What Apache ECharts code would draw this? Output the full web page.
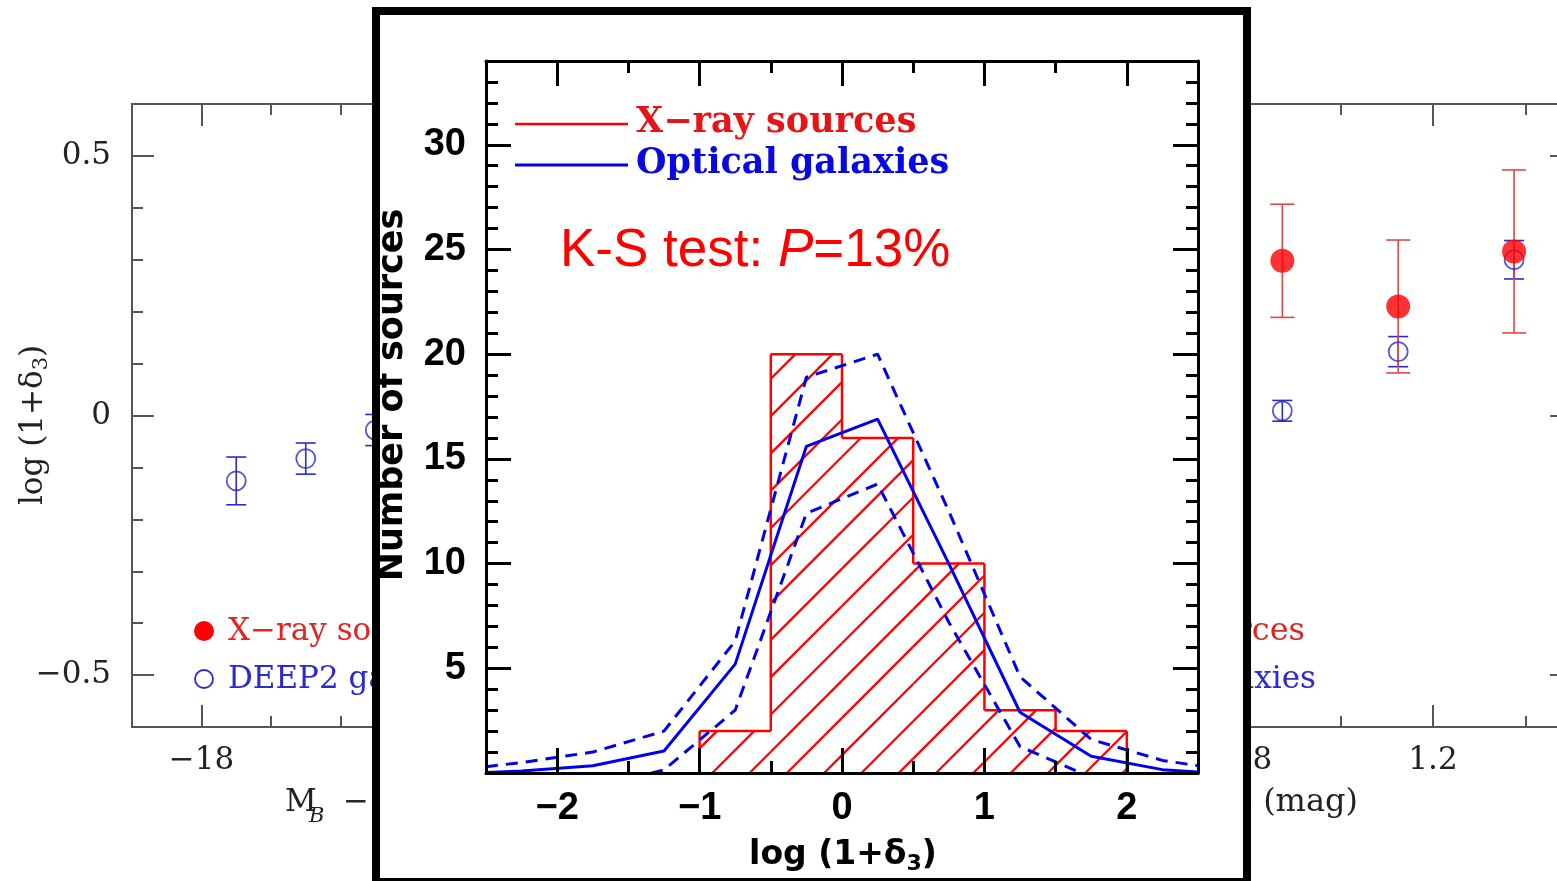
<!DOCTYPE html>
<html><head><meta charset="utf-8">
<script src="https://cdn.jsdelivr.net/npm/echarts@6/dist/echarts.min.js"></script>
<style>html,body{margin:0;padding:0;background:#fff;}#c{width:1557px;height:881px;}</style>
</head><body><div id="c"></div>
<script>
// ===== Inset: histogram of log(1+delta3) =====
const histBinLeft = [-1, -0.5, 0, 0.5, 1, 1.5];
const histBinWidth = 0.5;
const histCounts = [2, 20, 16, 10, 3, 2];
const optX = [-2.5, -2.25, -1.75, -1.25, -0.75, -0.25, 0.25, 0.75, 1.25, 1.75, 2.25, 2.5];
const optMean = [0.02, 0.1, 0.35, 1.05, 5.2, 15.6, 16.9, 10.0, 2.9, 0.8, 0.16, 0.05];
const optUpper = [0.3, 0.5, 1.0, 2.0, 6.3, 18.9, 20.0, 12.5, 4.6, 1.6, 0.6, 0.35];
const optLowerX = [-1.75, -1.25, -0.75, -0.25, 0.25, 0.75, 1.25, 1.75];
const optLower = [-0.7, 0.15, 3.0, 12.4, 13.8, 7.2, 1.26, -0.2];
const insetXMajor = [-2, -1, 0, 1, 2];
const insetXLabels = ['\u22122', '\u22121', '0', '1', '2'];
const insetXMinor = [-1.5, -0.5, 0.5, 1.5];
const insetYMajor = [5, 10, 15, 20, 25, 30];
const insetYLabels = ['5', '10', '15', '20', '25', '30'];
const insetYMinor = [1, 2, 3, 4, 6, 7, 8, 9, 11, 12, 13, 14, 16, 17, 18, 19, 21, 22, 23, 24, 26, 27, 28, 29, 31, 32, 33];

// ===== Background panels =====
const mbX = [-18.25, -18.75, -19.25];
const mbDeep2 = [-0.126, -0.083, -0.028];
const mbDeep2Err = [0.046, 0.030, 0.030];
const colX = [0.875, 1.125, 1.375];
const colXray = [0.298, 0.210, 0.316];
const colXrayErr = [0.109, 0.128, 0.157];
const colDeep2 = [0.009, 0.123, 0.300];
const colDeep2Err = [0.020, 0.029, 0.037];
const bgYMajor = [-0.5, 0, 0.5];
const bgYLabels = ['\u22120.5', '0', '0.5'];
const bgYMinor = [-0.4, -0.3, -0.2, -0.1, 0.1, 0.2, 0.3, 0.4];
const mbMajor = [-22, -20, -18];
const mbLabels = ['\u221222', '\u221220', '\u221218'];
const mbMinor = [-21.5, -21, -20.5, -19.5, -19, -18.5];
const colMajor = [0.4, 0.8, 1.2];
const colLabels = ['0.4', '0.8', '1.2'];
const colMinor = [0.6, 1.0, 1.4];

const RED = '#ff0000', BLUE = '#0000ee';
const BG_RED = '#e02424', BG_BLUE = '#2a2ad0';

function lookup(vals, labels) {
  return function (v) {
    const i = vals.findIndex(t => Math.abs(t - v) < 1e-9);
    return i >= 0 ? labels[i] : '';
  };
}

function bgAxis(kind, grid, pos, min, max, ticks, len, labels, inverse) {
  const a = {
    type: 'value', gridIndex: grid, position: pos, min: min, max: max, inverse: !!inverse,
    axisLine: { show: false, onZero: false },
    splitLine: { show: false },
    axisTick: { show: true, inside: true, length: len, customValues: ticks, lineStyle: { color: '#555', width: 2 } },
    axisLabel: { show: false }
  };
  if (labels) {
    a.axisLabel = {
      show: true, customValues: ticks, formatter: lookup(ticks, labels),
      fontFamily: 'DejaVu Serif', fontSize: 31, color: '#222', margin: kind === 'x' ? 18 : 21
    };
  }
  return a;
}
function inAxis(kind, pos, min, max, ticks, len, labels, showLine) {
  const a = {
    type: 'value', gridIndex: 2, position: pos, min: min, max: max, zlevel: 1, z: 6,
    axisLine: { show: !!showLine, onZero: false, lineStyle: { color: '#000', width: 3 } },
    splitLine: { show: false },
    axisTick: { show: true, inside: true, length: len, customValues: ticks, lineStyle: { color: '#000', width: 3 } },
    axisLabel: { show: false }
  };
  if (labels) {
    a.axisLabel = {
      show: true, customValues: ticks, formatter: lookup(ticks, labels),
      fontFamily: 'Liberation Sans', fontWeight: 'bold', fontSize: 38, color: '#000',
      margin: kind === 'x' ? 17 : 20
    };
  }
  return a;
}

const xAxes = [
  bgAxis('x', 0, 'bottom', -22, -17.5, mbMajor, 22, mbLabels, true),
  bgAxis('x', 0, 'bottom', -22, -17.5, mbMinor, 11, null, true),
  bgAxis('x', 0, 'top', -22, -17.5, mbMajor, 22, null, true),
  bgAxis('x', 0, 'top', -22, -17.5, mbMinor, 11, null, true),
  bgAxis('x', 1, 'bottom', 0.2, 1.5, colMajor, 22, colLabels),
  bgAxis('x', 1, 'bottom', 0.2, 1.5, colMinor, 11, null),
  bgAxis('x', 1, 'top', 0.2, 1.5, colMajor, 22, null),
  bgAxis('x', 1, 'top', 0.2, 1.5, colMinor, 11, null),
  inAxis('x', 'bottom', -2.5, 2.5, insetXMajor, 25, insetXLabels, true),
  inAxis('x', 'bottom', -2.5, 2.5, insetXMinor, 12, null, false),
  inAxis('x', 'top', -2.5, 2.5, insetXMajor, 25, null, true),
  inAxis('x', 'top', -2.5, 2.5, insetXMinor, 12, null, false)
];
const yAxes = [
  bgAxis('y', 0, 'left', -0.6, 0.6, bgYMajor, 22, bgYLabels),
  bgAxis('y', 0, 'left', -0.6, 0.6, bgYMinor, 11, null),
  bgAxis('y', 1, 'right', -0.6, 0.6, bgYMajor, 22, null),
  bgAxis('y', 1, 'right', -0.6, 0.6, bgYMinor, 11, null),
  inAxis('y', 'left', 0, 34, insetYMajor, 25, insetYLabels, true),
  inAxis('y', 'left', 0, 34, insetYMinor, 12, null, false),
  inAxis('y', 'right', 0, 34, insetYMajor, 25, null, true),
  inAxis('y', 'right', 0, 34, insetYMinor, 12, null, false)
];

function errBars(color, capHalf, lw) {
  return function (params, api) {
    const x = api.value(0), y = api.value(1), e = api.value(2);
    const t = api.coord([x, y + e]), b = api.coord([x, y - e]);
    const st = { stroke: color, lineWidth: lw };
    return { type: 'group', children: [
      { type: 'line', shape: { x1: t[0], y1: t[1], x2: b[0], y2: b[1] }, style: st },
      { type: 'line', shape: { x1: t[0] - capHalf, y1: t[1], x2: t[0] + capHalf, y2: t[1] }, style: st },
      { type: 'line', shape: { x1: b[0] - capHalf, y1: b[1], x2: b[0] + capHalf, y2: b[1] }, style: st }
    ] };
  };
}

const hatchRefX = -0.911;  // phase of hatching (data x where a hatch line meets the axis)
const hatchGap = 37.3;     // px along x between hatch lines (45 deg)

function histRender(params, api) {
  const i = params.dataIndex;
  const left = api.value(0), right = api.value(1), h = api.value(2);
  const prevH = i > 0 ? histCounts[i - 1] : 0;
  const tl = api.coord([left, h]), br = api.coord([right, 0]);
  const pp = api.coord([left, prevH]);
  const x0 = tl[0], y0 = tl[1], x1 = br[0], y1 = br[1];
  const ref = api.coord([hatchRefX, 0]);
  const cRef = ref[0] + ref[1];
  const children = [];
  const kS = Math.floor((x0 + y0 - cRef) / hatchGap) - 1;
  const kE = Math.ceil((x1 + y1 - cRef) / hatchGap) + 1;
  for (let k = kS; k <= kE; k++) {
    const c = cRef + k * hatchGap;
    const xs = Math.max(x0, c - y1), xe = Math.min(x1, c - y0);
    if (xe > xs + 0.5) {
      children.push({ type: 'line', shape: { x1: xs, y1: c - xs, x2: xe, y2: c - xe },
        style: { stroke: RED, lineWidth: 2.3 } });
    }
  }
  const os = { stroke: RED, lineWidth: 2.5 };
  children.push({ type: 'line', shape: { x1: x0, y1: y0, x2: x1, y2: y0 }, style: os });
  children.push({ type: 'line', shape: { x1: x0, y1: pp[1], x2: x0, y2: y0 }, style: os });
  if (i === histCounts.length - 1) {
    children.push({ type: 'line', shape: { x1: x1, y1: y0, x2: x1, y2: y1 }, style: os });
  }
  return { type: 'group', children: children };
}

const series = [
  { type: 'custom', xAxisIndex: 0, yAxisIndex: 0, renderItem: errBars(BG_BLUE, 10, 1.6),
    data: mbX.map((x, i) => [x, mbDeep2[i], mbDeep2Err[i]]), silent: true },
  { type: 'scatter', xAxisIndex: 0, yAxisIndex: 0, symbol: 'circle', symbolSize: 19,
    itemStyle: { color: 'rgba(0,0,0,0)', borderColor: BG_BLUE, borderWidth: 1.8 },
    data: mbX.map((x, i) => [x, mbDeep2[i]]), silent: true },
  { type: 'custom', xAxisIndex: 4, yAxisIndex: 2, renderItem: errBars(BG_BLUE, 10, 1.6),
    data: colX.map((x, i) => [x, colDeep2[i], colDeep2Err[i]]), silent: true },
  { type: 'scatter', xAxisIndex: 4, yAxisIndex: 2, symbol: 'circle', symbolSize: 19,
    itemStyle: { color: 'rgba(0,0,0,0)', borderColor: BG_BLUE, borderWidth: 1.8 },
    data: colX.map((x, i) => [x, colDeep2[i]]), silent: true },
  { type: 'custom', xAxisIndex: 4, yAxisIndex: 2, renderItem: errBars('#e04848', 12, 1.6),
    data: colX.map((x, i) => [x, colXray[i], colXrayErr[i]]), silent: true },
  { type: 'scatter', xAxisIndex: 4, yAxisIndex: 2, symbol: 'circle', symbolSize: 24,
    itemStyle: { color: '#ff0000' }, data: colX.map((x, i) => [x, colXray[i]]), silent: true },
  { type: 'custom', xAxisIndex: 8, yAxisIndex: 4, zlevel: 1, z: 3, renderItem: histRender, silent: true,
    data: histBinLeft.map((l, i) => [l, l + histBinWidth, histCounts[i]]) },
  { type: 'line', xAxisIndex: 8, yAxisIndex: 4, zlevel: 1, z: 4, showSymbol: false, silent: true,
    lineStyle: { color: BLUE, width: 3 }, data: optX.map((x, i) => [x, optMean[i]]) },
  { type: 'line', xAxisIndex: 8, yAxisIndex: 4, zlevel: 1, z: 4, showSymbol: false, silent: true,
    lineStyle: { color: BLUE, width: 3, type: [12, 8] }, data: optX.map((x, i) => [x, optUpper[i]]) },
  { type: 'line', xAxisIndex: 8, yAxisIndex: 4, zlevel: 1, z: 4, showSymbol: false, silent: true,
    lineStyle: { color: BLUE, width: 3, type: [12, 8] }, data: optLowerX.map((x, i) => [x, optLower[i]]) }
];

const serif = 'DejaVu Serif';
const graphics = [
  { type: 'circle', zlevel: 0, z: 5, shape: { cx: 204, cy: 631, r: 10 }, style: { fill: '#ff0000' } },
  { type: 'text', zlevel: 0, z: 5, x: 228, y: 632, style: { text: 'X\u2212ray sources', fill: BG_RED,
      font: '31px "DejaVu Serif"', textVerticalAlign: 'middle' } },
  { type: 'circle', zlevel: 0, z: 5, shape: { cx: 204, cy: 679, r: 9 }, style: { fill: 'none', stroke: BG_BLUE, lineWidth: 1.8 } },
  { type: 'text', zlevel: 0, z: 5, x: 228, y: 680, style: { text: 'DEEP2 galaxies', fill: BG_BLUE,
      font: '31px "DejaVu Serif"', textVerticalAlign: 'middle' } },
  { type: 'text', zlevel: 0, z: 5, x: 1305, y: 632, style: { text: 'X\u2212ray sources', fill: BG_RED,
      font: '32px "DejaVu Serif"', textVerticalAlign: 'middle', textAlign: 'right' } },
  { type: 'text', zlevel: 0, z: 5, x: 1316, y: 680, style: { text: 'DEEP2 galaxies', fill: BG_BLUE,
      font: '31px "DejaVu Serif"', textVerticalAlign: 'middle', textAlign: 'right' } },
  { type: 'text', zlevel: 0, z: 5, x: 285, y: 803, style: { text: 'M', fill: '#222',
      font: '31px "DejaVu Serif"', textVerticalAlign: 'middle' } },
  { type: 'text', zlevel: 0, z: 5, x: 309, y: 817, style: { text: 'B', fill: '#222',
      font: 'italic 21px "DejaVu Serif"', textVerticalAlign: 'middle' } },
  { type: 'text', zlevel: 0, z: 5, x: 343, y: 803, style: { text: '\u2212 5 log h (mag)', fill: '#222',
      font: '31px "DejaVu Serif"', textVerticalAlign: 'middle' } },
  { type: 'text', zlevel: 0, z: 5, x: 1358, y: 803, style: { text: 'U \u2212 B (mag)', fill: '#222',
      font: '32px "DejaVu Serif"', textVerticalAlign: 'middle', textAlign: 'right' } },
  { type: 'text', zlevel: 0, z: 5, x: 34, y: 425, rotation: Math.PI / 2, style: {
      text: '{a|log (1+\u03b4}{s|3}{a|)}', textAlign: 'center', textVerticalAlign: 'middle', fill: '#222',
      rich: { a: { fontFamily: serif, fontSize: 31, lineHeight: 36, fill: '#222' },
              s: { fontFamily: serif, fontSize: 21, lineHeight: 22, verticalAlign: 'bottom', fill: '#222' } } } },
  { type: 'rect', zlevel: 1, z: 0, shape: { x: 376, y: 11, width: 871, height: 871 },
    style: { fill: '#fff', stroke: '#000', lineWidth: 8 } },
  { type: 'line', zlevel: 1, z: 8, shape: { x1: 515, y1: 124, x2: 628, y2: 124 }, style: { stroke: RED, lineWidth: 2.5 } },
  { type: 'text', zlevel: 1, z: 8, x: 636, y: 123, style: { text: 'X\u2212ray sources', fill: '#e61414',
      font: 'bold 35px "DejaVu Serif"', textVerticalAlign: 'middle' } },
  { type: 'line', zlevel: 1, z: 8, shape: { x1: 515, y1: 165, x2: 628, y2: 165 }, style: { stroke: BLUE, lineWidth: 3 } },
  { type: 'text', zlevel: 1, z: 8, x: 636, y: 164, style: { text: 'Optical galaxies', fill: '#0808e0',
      font: 'bold 35px "DejaVu Serif"', textVerticalAlign: 'middle' } },
  { type: 'text', zlevel: 1, z: 8, x: 560, y: 251, style: {
      text: '{a|K-S test: }{i|P}{a|=13%}', textVerticalAlign: 'middle',
      rich: { a: { fontFamily: 'Liberation Sans', fontSize: 53, fill: '#ff0000' },
              i: { fontFamily: 'Liberation Sans', fontSize: 53, fontStyle: 'italic', fill: '#ff0000' } } } },
  { type: 'text', zlevel: 1, z: 8, x: 393, y: 395, rotation: Math.PI / 2, style: {
      text: 'Number of sources', textAlign: 'center', textVerticalAlign: 'middle', fill: '#000',
      font: 'bold 35px "DejaVu Sans"' } },
  { type: 'text', zlevel: 1, z: 8, x: 843, y: 855, style: {
      text: '{a|log (1+\u03b4}{s|3}{a|)}', textAlign: 'center', textVerticalAlign: 'middle',
      rich: { a: { fontFamily: 'DejaVu Sans', fontWeight: 'bold', fontSize: 33, lineHeight: 40, fill: '#000' },
              s: { fontFamily: 'DejaVu Sans', fontWeight: 'bold', fontSize: 22, lineHeight: 24, verticalAlign: 'bottom', fill: '#000' } } } }
];

const chart = echarts.init(document.getElementById('c'), null, { renderer: 'canvas' });
chart.setOption({
  animation: false,
  backgroundColor: '#fff',
  grid: [
    { left: 132, top: 104, width: 625.5, height: 623, show: true, borderColor: '#555', borderWidth: 2,
      backgroundColor: 'transparent', outerBoundsMode: 'none', containLabel: false },
    { left: 969.5, top: 104, width: 602.5, height: 623, show: true, borderColor: '#555', borderWidth: 2,
      backgroundColor: 'transparent', outerBoundsMode: 'none', containLabel: false },
    { left: 486, top: 61, width: 712, height: 712, show: false, outerBoundsMode: 'none', containLabel: false }
  ],
  xAxis: xAxes,
  yAxis: yAxes,
  series: series,
  graphic: { elements: graphics }
});
</script></body></html>
